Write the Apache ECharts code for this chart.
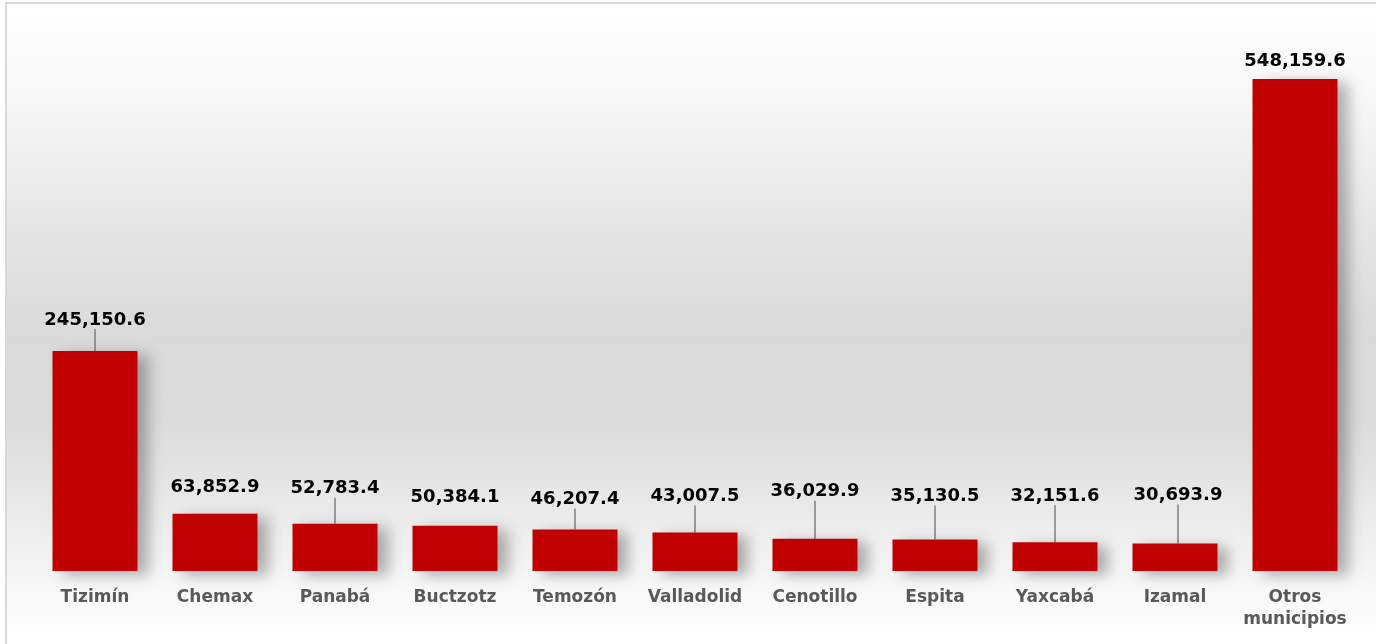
<!DOCTYPE html>
<html>
<head>
<meta charset="utf-8">
<script src="https://cdn.jsdelivr.net/npm/echarts@6/dist/echarts.min.js"></script>
<style>
  html, body { margin: 0; padding: 0; width: 1376px; height: 644px; overflow: hidden; background: #ffffff; }
  #frame {
    position: absolute; left: 5px; top: 2px; width: 1400px; height: 700px;
    border-left: 2px solid #d9d9d9; border-top: 2px solid #d9d9d9;
    background: linear-gradient(to bottom, #ffffff 0px, #f8f8f8 90px, #e6e6e6 220px, #dadada 330px, #dcdcdc 420px, #ececec 520px, #f7f7f7 580px, #ffffff 640px);
  }
  #chart { position: absolute; left: 0; top: 0; width: 1376px; height: 644px; }
</style>
</head>
<body>
<div id="frame"></div>
<div id="chart"></div>
<script>
const categories = ['Tizimín', 'Chemax', 'Panabá', 'Buctzotz', 'Temozón', 'Valladolid', 'Cenotillo', 'Espita', 'Yaxcabá', 'Izamal', 'Otros\nmunicipios'];
const values = [245150.6, 63852.9, 52783.4, 50384.1, 46207.4, 43007.5, 36029.9, 35130.5, 32151.6, 30693.9, 548159.6];

// label styling (offsets of value labels and whether a leader line is drawn)
const labelDy = [-9, -4, -13, -6, -8, -14, -25, -21, -24, -26, 4];
const labelDx = [0, 0, 0, 0, 0, 0, 0, 0, 0, 3, 0];
const showLeader = [true, false, true, false, true, true, true, true, true, true, false];

const fmt = v => v.toLocaleString('en-US', { minimumFractionDigits: 1, maximumFractionDigits: 1 });

const chart = echarts.init(document.getElementById('chart'));
chart.setOption({
  backgroundColor: 'transparent',
  animation: false,
  grid: { left: 35, right: 21, top: 32.5, bottom: 73, containLabel: false },
  xAxis: {
    type: 'category',
    data: categories,
    axisLine: { show: false },
    axisTick: { show: false },
    axisLabel: {
      color: '#595959', fontFamily: 'DejaVu Sans', fontWeight: 'bold', fontSize: 17,
      margin: 16, lineHeight: 22, interval: 0
    }
  },
  yAxis: {
    type: 'value', min: 0, max: 600000, show: false,
    splitLine: { show: false }
  },
  series: [{
    type: 'bar',
    barWidth: 85,
    data: values.map((v, i) => ({
      value: v,
      labelLine: { show: showLeader[i] }
    })),
    itemStyle: {
      color: '#C00000',
      shadowColor: 'rgba(0,0,0,0.3)',
      shadowBlur: 14,
      shadowOffsetX: 10,
      shadowOffsetY: 4
    },
    label: {
      show: true, position: 'top', distance: 5,
      padding: [0, 0, 8, 0],
      color: '#000000', fontFamily: 'DejaVu Sans', fontWeight: 'bold', fontSize: 18,
      formatter: p => fmt(p.value)
    },
    labelLine: {
      show: true,
      lineStyle: { color: '#7f7f7f', width: 1.5 }
    },
    labelLayout: p => ({ dy: labelDy[p.dataIndex], dx: labelDx[p.dataIndex] })
  }]
});
</script>
</body>
</html>
